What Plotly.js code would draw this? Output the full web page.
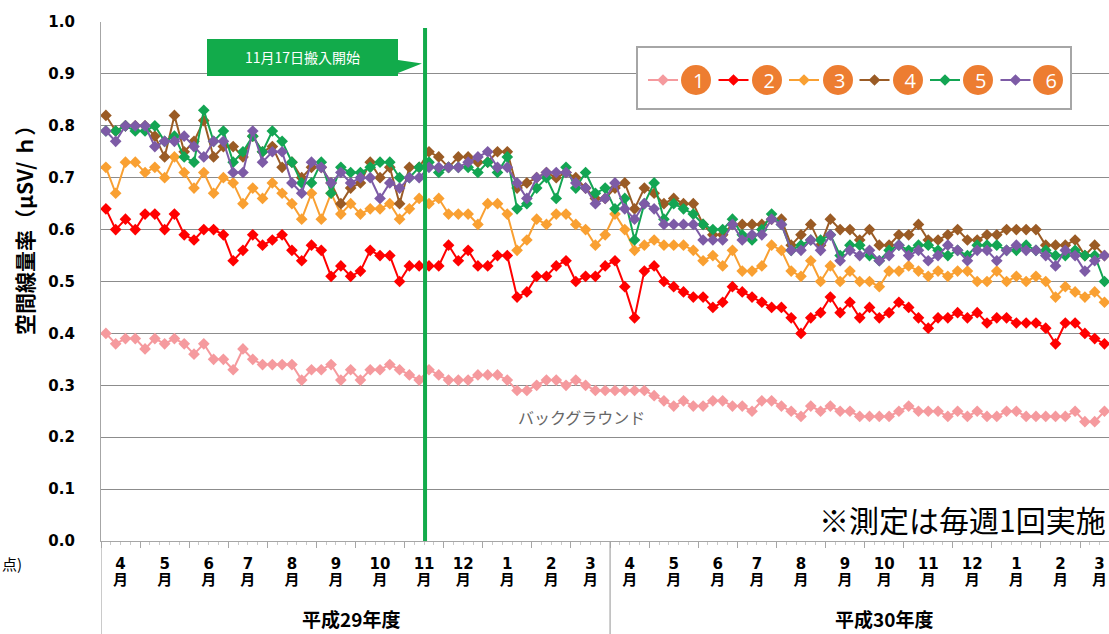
<!DOCTYPE html>
<html><head><meta charset="utf-8">
<script src="https://cdn.plot.ly/plotly-3.0.1.min.js"></script>
<style>html,body{margin:0;padding:0;background:#fff;}#chart{width:1109px;height:634px;}</style>
</head><body><div id="chart"></div>
<script>
// ---- data ----
const seriesNames = ["1","2","3","4","5","6"];
const s1 = [0.40,0.38,0.39,0.39,0.37,0.39,0.38,0.39,0.38,0.36,0.38,0.35,0.35,0.33,0.37,0.35,0.34,0.34,0.34,0.34,0.31,0.33,0.33,0.34,0.31,0.33,0.31,0.33,0.33,0.34,0.33,0.32,0.31,0.33,0.32,0.31,0.31,0.31,0.32,0.32,0.32,0.31,0.29,0.29,0.30,0.31,0.31,0.30,0.31,0.30,0.29,0.29,0.29,
0.29,0.29,0.29,0.28,0.27,0.26,0.27,0.26,0.26,0.27,0.27,0.26,0.26,0.25,0.27,0.27,0.26,0.25,0.24,0.26,0.25,0.26,0.25,0.25,0.24,0.24,0.24,0.24,0.25,0.26,0.25,0.25,0.25,0.24,0.25,0.24,0.25,0.24,0.24,0.25,0.25,0.24,0.24,0.24,0.24,0.24,0.25,0.23,0.23,0.25];
const s2 = [0.64,0.60,0.62,0.60,0.63,0.63,0.60,0.63,0.59,0.58,0.60,0.60,0.59,0.54,0.56,0.59,0.57,0.58,0.59,0.56,0.54,0.57,0.56,0.51,0.53,0.51,0.52,0.56,0.55,0.55,0.50,0.53,0.53,0.53,
0.53,0.57,0.54,0.56,0.53,0.53,0.55,0.55,0.47,0.48,0.51,0.51,0.53,0.54,0.50,0.51,0.51,0.53,0.54,0.49,0.43,0.52,0.53,0.50,0.49,0.48,0.47,0.47,0.45,
0.46,0.49,0.48,0.47,0.46,0.45,0.45,0.43,0.40,0.43,0.44,0.47,0.44,0.46,0.43,0.45,0.43,0.44,0.46,0.45,0.43,0.41,0.43,0.43,0.44,0.43,0.44,0.42,0.43,0.43,0.42,0.42,0.42,0.41,0.38,0.42,0.42,0.40,0.39,0.38];
const s3 = [0.72,0.67,0.73,0.73,0.71,0.72,0.70,0.74,0.71,0.68,0.71,0.67,0.70,0.69,0.65,0.68,0.66,0.69,0.67,0.65,0.62,0.67,0.62,0.67,0.63,0.65,0.63,0.64,0.64,0.65,0.62,0.64,0.66,0.65,
0.66,0.63,0.63,0.63,0.61,0.65,0.65,0.63,0.56,0.58,0.62,0.61,0.63,0.63,0.61,0.60,0.57,0.59,0.63,0.60,0.56,0.57,0.58,0.57,0.57,0.57,0.56,
0.54,0.55,0.53,0.56,0.52,0.52,0.53,0.57,0.56,0.52,0.51,0.54,0.50,0.53,0.50,0.52,0.50,0.50,0.49,0.52,0.52,0.53,0.52,0.51,0.52,0.51,0.52,0.52,0.50,0.50,0.52,0.50,0.51,0.50,0.51,0.50,0.47,0.49,0.48,0.47,0.48,0.46];
const s4 = [0.82,0.79,0.80,0.80,0.80,0.78,0.74,0.82,0.75,0.77,0.81,0.74,0.76,0.76,0.74,0.78,0.75,0.76,0.72,0.73,0.70,0.72,0.72,0.69,0.65,0.68,0.69,0.73,0.70,0.72,0.65,0.72,0.72,0.75,
0.74,0.72,0.74,0.74,0.73,0.73,0.75,0.75,0.68,0.69,0.70,0.71,0.70,0.71,0.70,0.68,0.66,0.66,0.68,0.69,0.64,0.68,0.67,0.65,0.66,0.65,0.65,0.61,0.59,0.59,0.61,
0.61,0.61,0.61,0.62,0.62,0.57,0.59,0.61,0.57,0.62,0.60,0.60,0.58,0.60,0.57,0.57,0.59,0.59,0.61,0.58,0.58,0.59,0.60,0.58,0.58,0.59,0.59,0.60,0.60,0.60,0.60,0.57,0.57,0.57,0.58,0.55,0.57,0.55];
const s5 = [0.79,0.79,0.80,0.79,0.79,0.80,0.77,0.78,0.74,0.73,0.83,0.77,0.79,0.73,0.75,0.78,0.75,0.79,0.77,0.73,0.69,0.69,0.73,0.67,0.72,0.71,0.71,0.72,0.73,0.73,0.70,0.70,0.72,0.73,
0.71,0.72,0.72,0.72,0.71,0.73,0.71,0.74,0.64,0.65,0.68,0.70,0.66,0.72,0.68,0.71,0.67,0.68,0.64,0.66,0.58,0.65,0.69,0.62,0.65,0.64,0.63,
0.61,0.60,0.60,0.62,0.59,0.58,0.60,0.63,0.61,0.56,0.57,0.58,0.58,0.59,0.55,0.57,0.57,0.55,0.54,0.56,0.57,0.56,0.57,0.57,0.56,0.55,0.56,0.55,0.57,0.57,0.57,0.56,0.56,0.57,0.56,0.56,0.55,0.55,0.56,0.55,0.55,0.50];
const s6 = [0.79,0.77,0.80,0.80,0.80,0.76,0.77,0.77,0.78,0.76,0.74,0.77,0.77,0.71,0.71,0.79,0.73,0.75,0.75,0.69,0.67,0.73,0.72,0.69,0.71,0.69,0.70,0.70,0.66,0.69,0.68,0.70,0.70,0.72,
0.72,0.72,0.72,0.73,0.74,0.75,0.72,0.72,0.69,0.66,0.70,0.71,0.71,0.71,0.69,0.68,0.65,0.66,0.69,0.64,0.62,0.65,0.64,0.61,0.61,0.61,0.61,
0.58,0.58,0.58,0.61,0.58,0.59,0.59,0.62,0.61,0.56,0.56,0.58,0.56,0.59,0.54,0.56,0.55,0.56,0.54,0.55,0.57,0.55,0.56,0.54,0.55,0.57,0.56,0.54,0.56,0.56,0.54,0.56,0.57,0.56,0.56,0.55,0.53,0.56,0.55,0.52,0.54,0.55];
const monthLabels = ["4","5","6","7","8","9","10","11","12","1","2","3","4","5","6","7","8","9","10","11","12","1","2","3"];
const weeksPerMonth = [4,5,4,4,5,4,5,4,4,5,4,4, 4,5,4,4,5,4,4,5,4,5,4,4];
const yearLabels = ["平成29年度","平成30年度"];
const eventLabel = "11月17日搬入開始";
const eventWeek = 32.6;
const noteText = "※測定は毎週1回実施";
const bgLabel = "バックグラウンド";
const yTitle = "空間線量率（μSV/ ｈ）";
const cornerText = "点)";

// ---- styles ----
const colors = ["#f59a9e","#ff0000","#f9a032","#9a5b25","#13a553","#7d5ba6"];
const series = [s1,s2,s3,s4,s5,s6];

// pixel helpers (plot area 101..1109 x 22..541)
const L=101, R=1109, T=22, B=541;
const px = x => (x-L)/(R-L);
const py = y => (B-y)/(B-T);

const weeks = s1.map((_,i)=>i);
const traces = series.map((s,k)=>({
  x: weeks, y: s, name: '\u2002' + seriesNames[k], type:'scatter', mode:'lines+markers',
  line:{color:colors[k], width:2},
  marker:{symbol:'diamond', size:9, color:colors[k]},
  hoverinfo:'y'
}));

// month centres / boundaries derived from week counts
const bounds=[-0.5]; weeksPerMonth.forEach(n=>bounds.push(bounds[bounds.length-1]+n));
const centers = weeksPerMonth.map((n,i)=>(bounds[i]+bounds[i+1])/2);
const fyBoundary = bounds[12];

const pxPerWeek = 9.79;
const xMax = -0.5 + (R-L)/pxPerWeek;

const lineGray = '#a6a6a6';
const shapes = [
  {type:'line', xref:'x', yref:'paper', x0:-0.5, x1:-0.5, y0:0, y1:py(634), line:{color:lineGray,width:1.2}},
  {type:'line', xref:'x', yref:'paper', x0:fyBoundary, x1:fyBoundary, y0:0, y1:py(634), line:{color:lineGray,width:1.2}},
  {type:'line', xref:'x', yref:'paper', x0:eventWeek, x1:eventWeek, y0:0, y1:py(28), line:{color:'#12ab4b',width:4}, layer:'above'},
  {type:'path', xref:'paper', yref:'paper', layer:'above',
   path:`M${px(207)},${py(39)} L${px(398)},${py(39)} L${px(398)},${py(60)} L${px(422)},${py(63.5)} L${px(398)},${py(73)} L${px(398)},${py(76)} L${px(207)},${py(76)} Z`,
   fillcolor:'#12ab4b', line:{width:0}},
  {type:'rect', xref:'paper', yref:'paper', layer:'above', x0:px(637), x1:px(1071), y0:py(109), y1:py(47),
   fillcolor:'#ffffff', line:{color:'#a6a6a6', width:2}}
];
const circleCx = [696,767,838,908,978,1048];
circleCx.forEach(cx=>shapes.push({type:'circle', xref:'paper', yref:'paper', layer:'above',
  x0:px(cx-15), x1:px(cx+15), y0:py(95), y1:py(65), fillcolor:'#ed7d31', line:{width:0}}));

const jp = '"Noto Sans CJK JP", sans-serif';
const ann = (text, x, y, font, extra) => Object.assign({text, xref:'paper', yref:'paper', x:px(x), y:py(y), xanchor:'center', yanchor:'middle', showarrow:false, font}, extra||{});
const annotations = [
  ann(eventLabel, 302, 57, {family:jp, size:14, color:'#ffffff'}),
  ann(bgLabel, 516, 417, {family:jp, size:16, color:'#666666'}, {xanchor:'left'}),
  ann(noteText, 1108, 519, {family:jp, size:30, color:'#000000'}, {xanchor:'right'}),
  ann(yTitle, 24, 225, {family:jp, size:21, color:'#000000', weight:'bold'}, {textangle:-90}),
  ann(yearLabels[0], 351, 618, {family:jp, size:19, color:'#000000', weight:'bold'}),
  ann(yearLabels[1], 884, 618, {family:jp, size:19, color:'#000000', weight:'bold'}),
  ann(cornerText, 0, 563, {family:jp, size:15, color:'#000000'}, {xanchor:'left'})
];

const tickFont = {family:'"DejaVu Sans", "Noto Sans CJK JP", sans-serif', size:15, color:'#000', weight:'bold'};
const layout = {
  width:1109, height:634,
  margin:{l:L, r:0, t:T, b:634-B, pad:0},
  paper_bgcolor:'#fff', plot_bgcolor:'#fff',
  showlegend:true,
  legend:{orientation:'h', x:px(643), xanchor:'left', y:py(80), yanchor:'middle', bgcolor:'rgba(0,0,0,0)', borderwidth:0,
    font:{family:'"Open Sans", sans-serif', size:20, color:'#ffffff'}, entrywidth:25.5, entrywidthmode:'pixels', itemwidth:30, traceorder:'normal'},
  xaxis:{range:[-0.5,xMax], showgrid:false, zeroline:false, showline:true, linecolor:lineGray, linewidth:1.2,
    tickmode:'array', tickvals:bounds, ticks:'outside', ticklen:6, tickcolor:lineGray, showticklabels:false,
    minor:{tickmode:'array', tickvals:weeks.map(i=>i+0.5), ticks:'outside', ticklen:3, tickcolor:'#c8c8c8'}},
  xaxis2:{overlaying:'x', matches:'x', anchor:'y', side:'bottom', showgrid:false, zeroline:false, showline:false,
    tickmode:'array', tickvals:centers, ticktext:monthLabels, ticks:'', ticklabelstandoff:12, tickfont:tickFont},
  xaxis3:{overlaying:'x', matches:'x', anchor:'y', side:'bottom', showgrid:false, zeroline:false, showline:false,
    tickmode:'array', tickvals:centers, ticktext:monthLabels.map(()=> '月'), ticks:'', ticklabelstandoff:28, tickfont:tickFont},
  yaxis:{range:[0,1.0], dtick:0.1, tick0:0, tickformat:'.1f', showgrid:true, gridcolor:'#8c8c8c', gridwidth:1,
    zeroline:false, showline:true, linecolor:lineGray, linewidth:1.2, ticks:'', ticklabelstandoff:22, tickfont:tickFont},
  shapes, annotations
};
traces.push({x:[0], y:[0], xaxis:'x2', mode:'none', showlegend:false, hoverinfo:'skip'});
traces.push({x:[0], y:[0], xaxis:'x3', mode:'none', showlegend:false, hoverinfo:'skip'});
Plotly.newPlot('chart', traces, layout, {displayModeBar:false, responsive:false});
</script></body></html>
